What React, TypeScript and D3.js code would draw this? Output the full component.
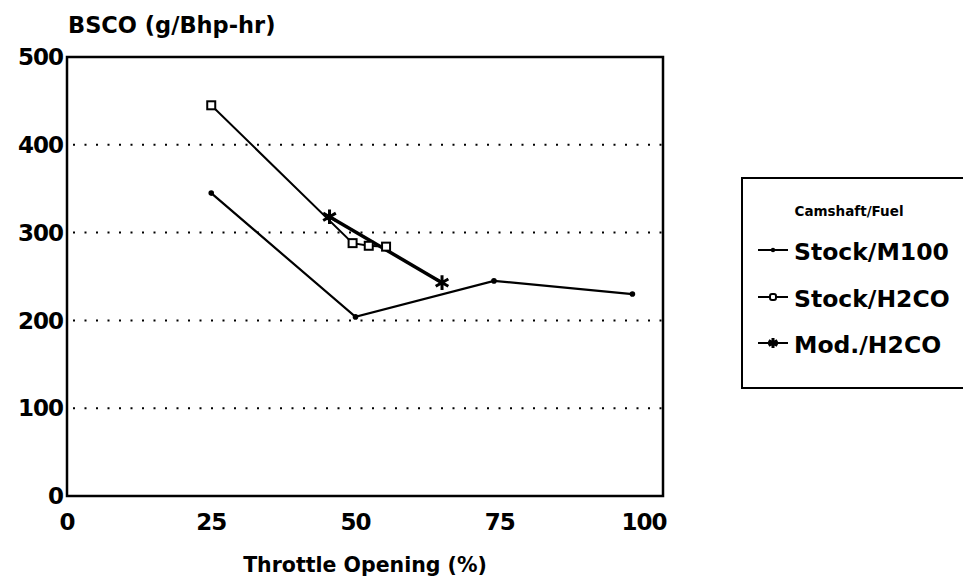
import React from 'react';
import * as d3 from 'd3';

// values
const stockM100X = [25, 50, 74, 98];
const stockM100Y = [345, 204, 245, 230];
const stockH2coX = [25, 49.5, 52.3, 55.3];
const stockH2coY = [445, 288, 285, 284];
const modH2coX = [45.5, 65];
const modH2coY = [318, 243];

const xTicks = [0, 25, 50, 75, 100];
const yTicks = [0, 100, 200, 300, 400, 500];
const gridValues = [100, 200, 300, 400];

const legendTitle = 'Camshaft/Fuel';
const legendNames = ['Stock/M100', 'Stock/H2CO', 'Mod./H2CO'];

const W = 963;
const H = 578;
const FONT = '"DejaVu Sans", sans-serif';

const zip = (xs: number[], ys: number[]) => xs.map((x, i) => [x, ys[i]] as [number, number]);

export default function App() {
    const x = d3.scaleLinear().domain([0, 103.3]).range([67, 663]);
    const y = d3.scaleLinear().domain([0, 500]).range([496, 57]);

    const line = d3.line<[number, number]>()
        .x(d => x(d[0]))
        .y(d => y(d[1]));

    const m100 = zip(stockM100X, stockM100Y);
    const h2co = zip(stockH2coX, stockH2coY);
    const mod = zip(modH2coX, modH2coY);

    const star = d3.symbol(d3.symbolAsterisk, 150)();
    const smallStar = d3.symbol(d3.symbolAsterisk, 70)();

    // legend layout
    const legX = 742;
    const legTop = 178;
    const legBottom = 388;
    const rowY = [260, 307, 353];

    const marker = (i: number, cx: number, cy: number, small = false) => {
        if (i === 0) return <circle cx={cx} cy={cy} r={small ? 2.2 : 2.8} fill="#000" />;
        if (i === 1) {
            const s = small ? 6 : 8;
            return <rect x={cx - s / 2} y={cy - s / 2} width={s} height={s} rx={small ? 2 : 0}
                fill="#fff" stroke="#000" strokeWidth={2} />;
        }
        return <path d={small ? smallStar : star} transform={`translate(${cx},${cy})`}
            fill="none" stroke="#000" strokeWidth={3} />;
    };

    return (
        <svg width={W} height={H} style={{ position: 'absolute', left: 0, top: 0, background: '#fff' }}>
            <rect width={W} height={H} fill="#fff" />

            {/* grid */}
            {gridValues.map(v => (
                <line key={v} x1={x(0) + 6} x2={x(103.3)} y1={y(v)} y2={y(v)}
                    stroke="#000" strokeWidth={2} strokeDasharray="2,9.5" />
            ))}

            {/* frame */}
            <rect x={x(0)} y={y(500)} width={x(103.3) - x(0)} height={y(0) - y(500)}
                fill="none" stroke="#000" strokeWidth={2.5} />

            {/* y labels */}
            {yTicks.map(v => (
                <text key={v} x={x(0) - 4} y={y(v)} dy="0.36em" textAnchor="end"
                    fontFamily={FONT} fontWeight="bold" fontSize={23} letterSpacing={-1}>{v}</text>
            ))}

            {/* x labels */}
            {xTicks.map(v => (
                <text key={v} x={x(v)} y={530} textAnchor="middle"
                    fontFamily={FONT} fontWeight="bold" fontSize={23} letterSpacing={-1}>{v}</text>
            ))}

            <text x={68} y={33} fontFamily={FONT} fontWeight="bold" fontSize={22.5}>BSCO (g/Bhp-hr)</text>
            <text x={365} y={572} textAnchor="middle" fontFamily={FONT} fontWeight="bold" fontSize={20.5}>Throttle Opening (%)</text>

            {/* series */}
            <path d={line(m100) || ''} fill="none" stroke="#000" strokeWidth={2.2} />
            <path d={line(h2co) || ''} fill="none" stroke="#000" strokeWidth={2} />
            <path d={line(mod) || ''} fill="none" stroke="#000" strokeWidth={3.5} />

            {m100.map((d, i) => <g key={'a' + i}>{marker(0, x(d[0]), y(d[1]))}</g>)}
            {h2co.map((d, i) => <g key={'b' + i}>{marker(1, x(d[0]), y(d[1]))}</g>)}
            {mod.map((d, i) => <g key={'c' + i}>{marker(2, x(d[0]), y(d[1]))}</g>)}

            {/* legend */}
            <rect x={legX} y={legTop} width={W} height={legBottom - legTop} fill="#fff" stroke="#000" strokeWidth={2} />
            <text x={849} y={216} textAnchor="middle" fontFamily={FONT} fontWeight="bold" fontSize={13.5}>{legendTitle}</text>
            {legendNames.map((name, i) => (
                <g key={name}>
                    <line x1={758} x2={788} y1={rowY[i] - 10} y2={rowY[i] - 10} stroke="#000" strokeWidth={2} />
                    {marker(i, 773, rowY[i] - 10, true)}
                    <text x={794} y={rowY[i]} fontFamily={FONT} fontSize={23.5} fontWeight="bold">{name}</text>
                </g>
            ))}
        </svg>
    );
}
